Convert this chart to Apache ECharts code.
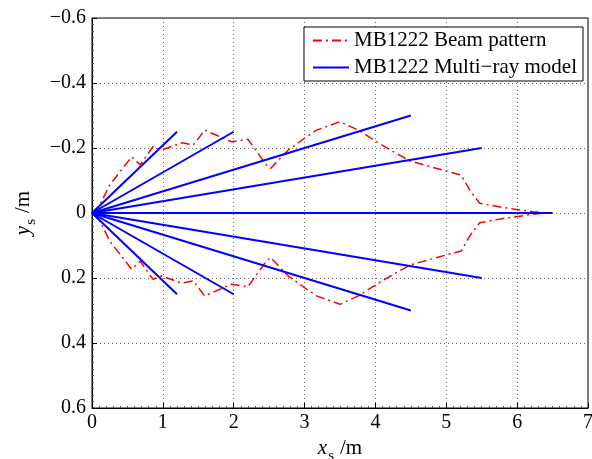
<!DOCTYPE html>
<html>
<head>
<meta charset="utf-8">
<script src="https://cdn.jsdelivr.net/npm/echarts@6/dist/echarts.min.js"></script>
<style>
  html, body { margin: 0; padding: 0; background: #fff; }
  #chart { width: 592px; height: 459px; }
</style>
</head>
<body>
<div id="chart"></div>
<script>
// Ray end points (x in m, y in m), every ray starts at the origin
const rayX = [1.2, 2.0, 4.5, 5.5, 6.5, 5.5, 4.5, 2.0, 1.2];
const rayY = [-0.25, -0.25, -0.3, -0.2, 0, 0.2, 0.3, 0.25, 0.25];

// Beam pattern contour, upper half (negative y); lower half is its mirror image
const beamX = [0, 0.1, 0.25, 0.56, 0.68, 0.86, 0.98, 1.27, 1.43, 1.59, 1.97, 2.2, 2.46, 2.52, 2.77, 3.0, 3.17, 3.5, 3.76, 4.02, 4.25, 4.49, 5.0, 5.21, 5.33, 5.47, 5.8, 6.22, 6.4];
const beamY = [0, -0.02, -0.086, -0.173, -0.148, -0.204, -0.194, -0.216, -0.209, -0.255, -0.219, -0.227, -0.148, -0.137, -0.194, -0.23, -0.255, -0.281, -0.255, -0.219, -0.189, -0.16, -0.129, -0.117, -0.071, -0.03, -0.017, -0.004, 0];

const xTicks = [0, 7, 1];
const yTicks = [-0.6, 0.6, 0.2];

const FONT = '"Liberation Serif", "DejaVu Serif", serif';
const BEAM = 'MB1222 Beam pattern';
const RAYS = 'MB1222 Multi\u2212ray model';

// Closed contour: out along the upper half, back along the lower half
const beamData = [];
for (let i = 0; i < beamX.length; i++) beamData.push([beamX[i], beamY[i]]);
for (let i = beamX.length - 1; i >= 0; i--) beamData.push([beamX[i], -beamY[i]]);

const series = [{
  name: BEAM,
  type: 'line',
  data: beamData,
  symbol: 'none',
  z: 3,
  lineStyle: { color: '#ff0000', width: 1.5, type: [9, 4, 2, 4] },
  itemStyle: { color: '#ff0000' }
}];
for (let i = 0; i < rayX.length; i++) {
  series.push({
    name: RAYS,
    type: 'line',
    data: [[0, 0], [rayX[i], rayY[i]]],
    symbol: 'none',
    z: 4,
    lineStyle: { color: '#0000ff', width: 2 },
    itemStyle: { color: '#0000ff' }
  });
}

const gridLine = { show: true, lineStyle: { color: '#666', type: [1, 3], width: 1 } };

// Axis title: italic variable, subscript "s", then the unit
const nameRich = {
  i: { fontFamily: FONT, fontStyle: 'italic', fontSize: 21, color: '#000' },
  s: { fontFamily: FONT, fontSize: 15, color: '#000', padding: [16, 0, 0, 1] },
  n: { fontFamily: FONT, fontSize: 21, color: '#000', padding: [0, 0, 0, 6] }
};

const chart = echarts.init(document.getElementById('chart'), null, { renderer: 'canvas' });
chart.setOption({
  animation: false,
  backgroundColor: '#fff',
  textStyle: { fontFamily: FONT },
  grid: {
    left: 92, right: 4, top: 18, bottom: 51,
    outerBoundsMode: 'none', containLabel: false,
    show: true, borderColor: '#000', borderWidth: 1, backgroundColor: 'transparent'
  },
  legend: {
    orient: 'vertical',
    right: 9,
    top: 27,
    backgroundColor: '#fff',
    borderColor: '#000',
    borderWidth: 1,
    padding: [3, 6, 3, 8],
    itemWidth: 36,
    itemHeight: 14,
    itemGap: 6,
    itemStyle: { opacity: 0 },
    data: [BEAM, RAYS],
    textStyle: { fontFamily: FONT, fontSize: 21, color: '#000' }
  },
  xAxis: {
    type: 'value',
    min: xTicks[0], max: xTicks[1], interval: xTicks[2],
    name: '{i|x}{s|s}{n|/m}',
    nameLocation: 'middle',
    nameGap: 19,
    nameTextStyle: { rich: nameRich },
    axisLine: { show: true, onZero: false, lineStyle: { color: '#000' } },
    axisTick: { show: true, inside: true, length: 5, lineStyle: { color: '#000' } },
    minorTick: { show: true, splitNumber: 10, length: 2, lineStyle: { color: '#555' } },
    axisLabel: { color: '#000', fontSize: 20, fontFamily: FONT, margin: 5 },
    splitLine: gridLine
  },
  yAxis: {
    type: 'value',
    inverse: true,
    min: yTicks[0], max: yTicks[1], interval: yTicks[2],
    name: '{i|y}{s|s}{n|/m}',
    nameLocation: 'middle',
    nameGap: 52,
    nameRotate: 90,
    nameTextStyle: { rich: nameRich },
    axisLine: { show: true, onZero: false, lineStyle: { color: '#000' } },
    axisTick: { show: true, inside: true, length: 5, lineStyle: { color: '#000' } },
    minorTick: { show: true, splitNumber: 10, length: 2, lineStyle: { color: '#555' } },
    axisLabel: {
      color: '#000', fontSize: 20, fontFamily: FONT, margin: 6,
      formatter: v => (v < -1e-9 ? '\u2212' : '') + Number(Math.abs(v).toFixed(1))
    },
    splitLine: gridLine
  },
  series: series
});
</script>
</body>
</html>
